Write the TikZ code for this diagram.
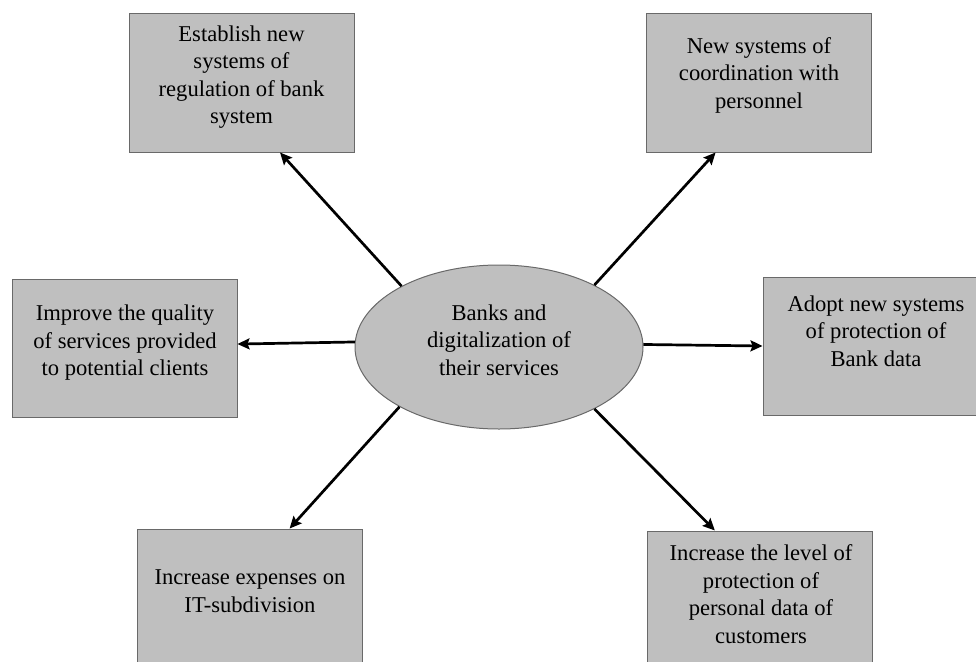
\documentclass[tikz,border=0pt]{standalone}
\usepackage{fontspec}
\setmainfont{Liberation Serif}
\usepackage{tikz}
\usetikzlibrary{arrows.meta, shapes.geometric, calc}
\definecolor{boxgray}{RGB}{191,191,191}
\definecolor{edgegray}{RGB}{105,105,105}

\begin{document}
\begin{tikzpicture}[x=1pt, y=-1pt,
  box/.style={draw=edgegray, fill=boxgray, line width=1pt, inner sep=0pt,
    minimum width=225pt, minimum height=138pt},
  hubshape/.style={ellipse, draw=edgegray, fill=boxgray, line width=1pt, inner sep=0pt,
    minimum width=288pt, minimum height=164pt},
  lbl/.style={align=center, font=\fontsize{22.6}{27.5}\selectfont},
  arr/.style={-{Stealth[length=12pt, width=11pt, inset=2pt]}, line width=2.7pt}]
  \useasboundingbox (0,0) rectangle (976,661);

  % Center
  \node[hubshape] (hub) at (499,347) {};
  \node[lbl] (hubtxt) at (499,340) {Banks and\\digitalization of\\their services};

  % Boxes
  \node[box] (regul) at (241.5,83) {};
  \node[lbl] (regultxt) at (241.5,77) {Establish new\\systems of\\regulation of bank\\system};

  \node[box] (coord) at (759,83) {};
  \node[lbl] (coordtxt) at (759,75) {New systems of\\coordination with\\personnel};

  \node[box] (quality) at (124.5,348) {};
  \node[lbl] (qualitytxt) at (125,343) {Improve the quality\\of services provided\\to potential clients};

  \node[box] (bankdata) at (875.5,346) {};
  \node[lbl] (bankdatatxt) at (876,331) {Adopt new systems\\of protection of\\Bank data};

  \node[box] (expenses) at (249.5,598) {};
  \node[lbl] (expensestxt) at (250,591) {Increase expenses on\\IT-subdivision};

  \node[box] (persdata) at (760,600) {};
  \node[lbl] (persdatatxt) at (761,594) {Increase the level of\\protection of\\personal data of\\customers};

  % Arrows
  \draw[arr] (hub.148) -- (regul.-61);
  \draw[arr] (hub.33) -- (coord.-122);
  \draw[arr] (hub.178) -- (quality.2);
  \draw[arr] (hub.1) -- (bankdata.west);
  \draw[arr] (hub.211) -- (expenses.60);
  \draw[arr] (hub.-33) -- (persdata.123);
\end{tikzpicture}
\end{document}
